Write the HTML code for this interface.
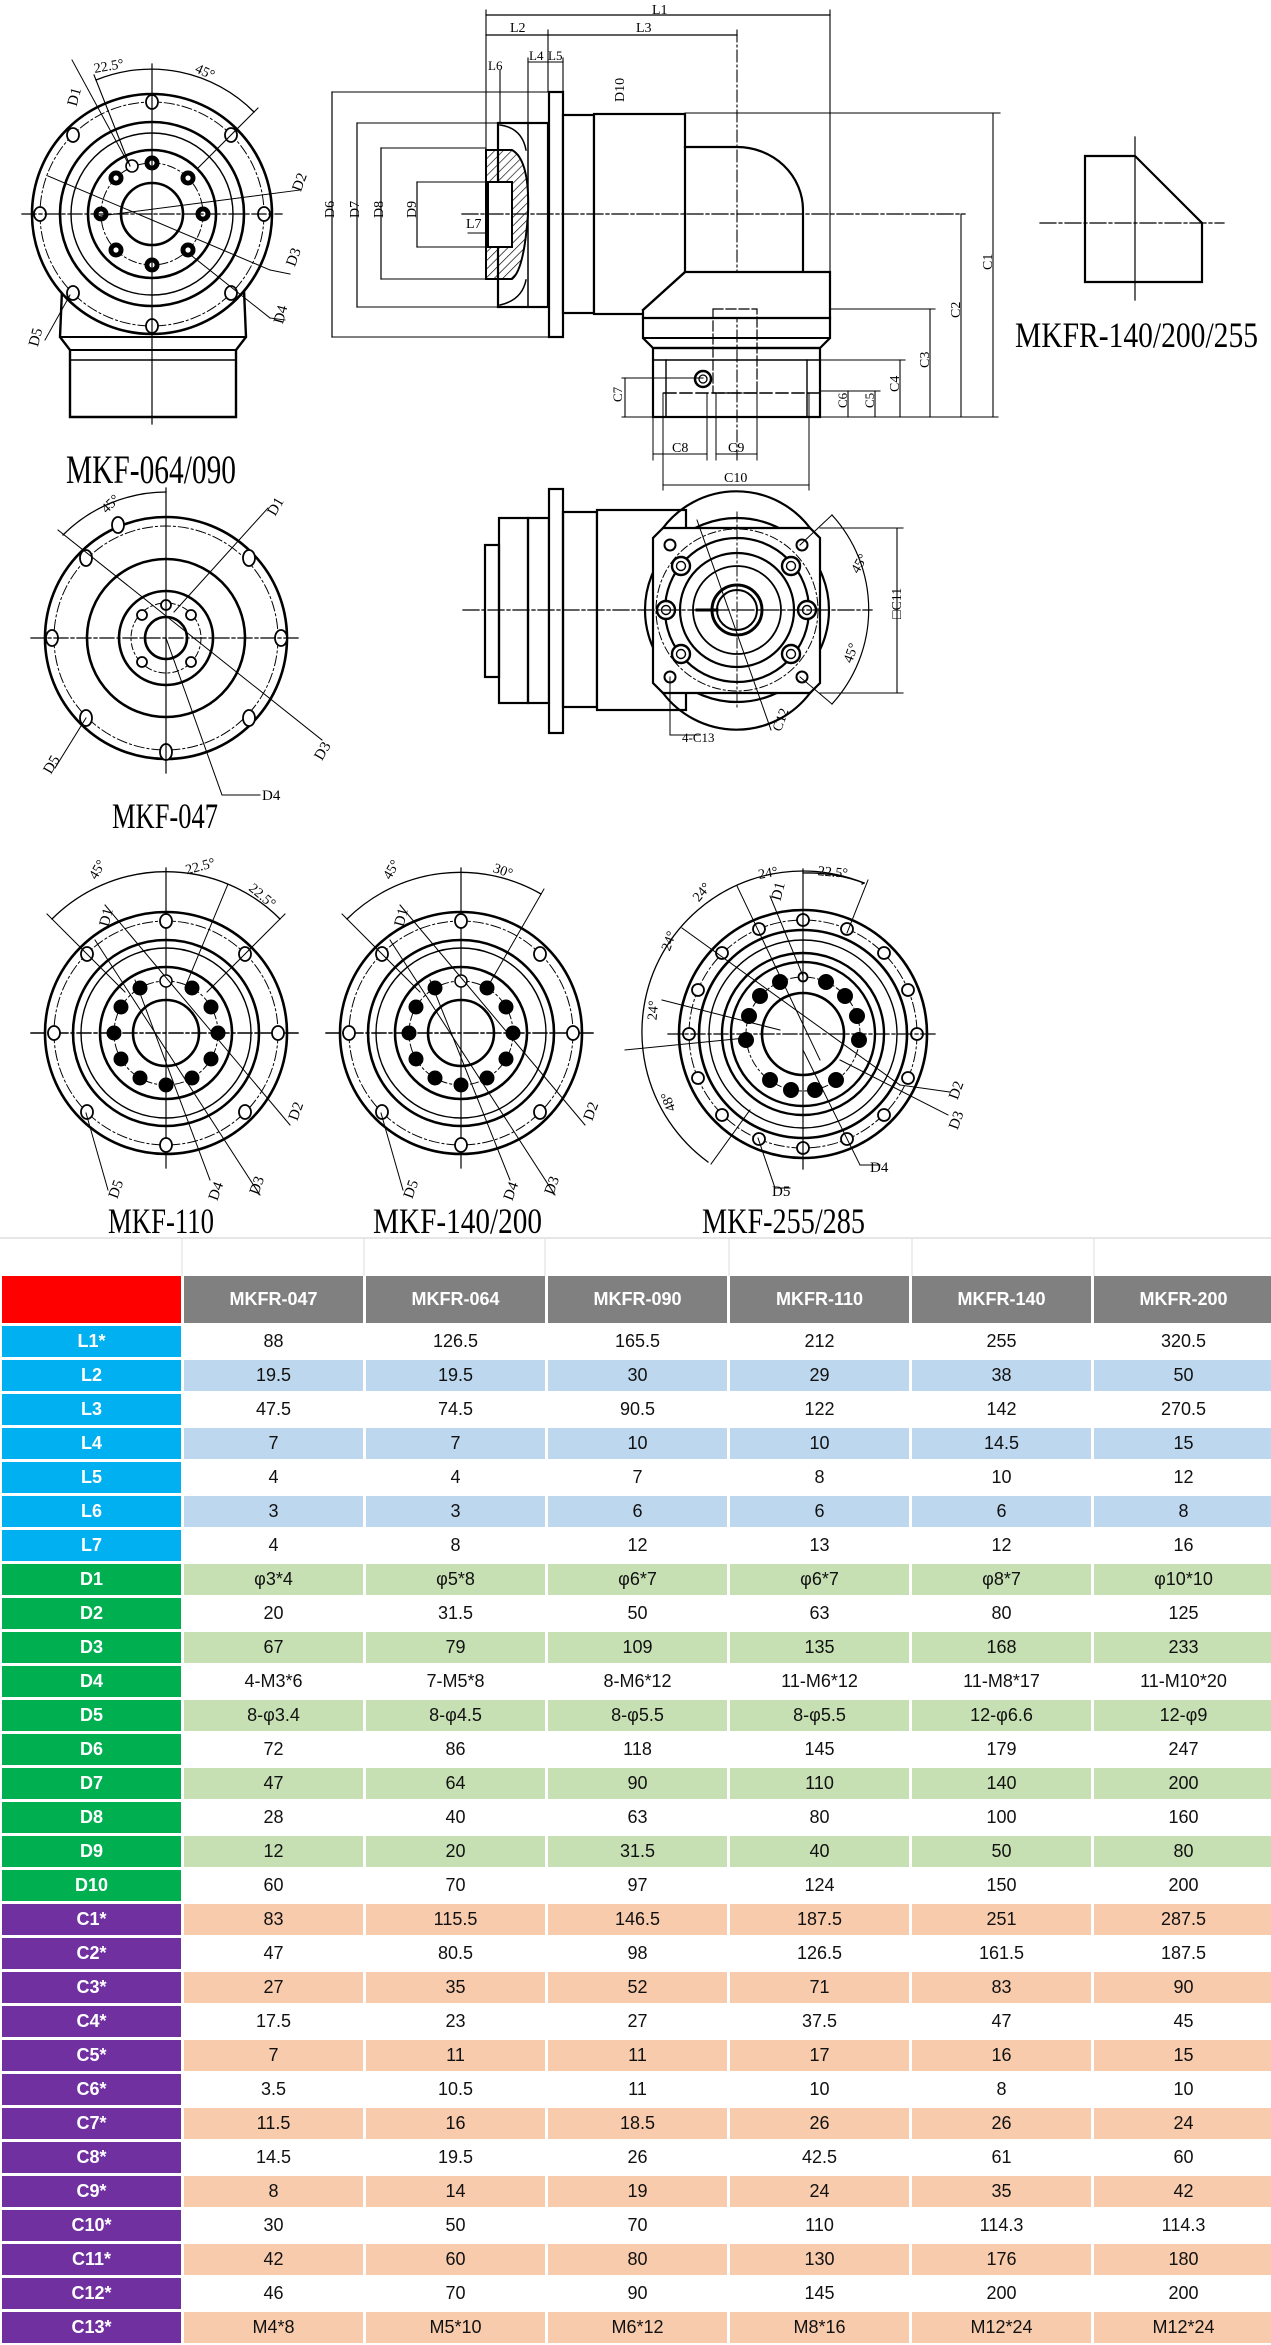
<!DOCTYPE html>
<html><head><meta charset="utf-8">
<style>
html,body{margin:0;padding:0;background:#fff;}
body{width:1271px;height:2345px;position:relative;overflow:hidden;font-family:"Liberation Sans",sans-serif;}
svg{position:absolute;left:0;top:0;}
.tbl{position:absolute;left:2px;top:1276px;display:grid;grid-template-columns:179px repeat(6,179px);grid-template-rows:47px repeat(30,31px);column-gap:3px;row-gap:3px;}
.tbl div{display:flex;align-items:center;justify-content:center;font-size:18px;color:#111;}
.h{background:#808080;color:#fff !important;font-weight:bold;}
.r{background:#ff0000;}
.L{background:#00b0f0;color:#fff !important;font-weight:bold;}
.D{background:#00b050;color:#fff !important;font-weight:bold;}
.C{background:#7030a0;color:#fff !important;font-weight:bold;}
.b{background:#bdd7ee;} .g{background:#c6e0b4;} .p{background:#f8cbad;} .w{background:#fff;}
</style></head><body>
<svg width="1271" height="1276" viewBox="0 0 1271 1276" xmlns="http://www.w3.org/2000/svg" font-family="Liberation Serif, serif">
<defs>
<pattern id="hat" width="6" height="6" patternUnits="userSpaceOnUse" patternTransform="rotate(45)"><line x1="0" y1="0" x2="0" y2="6" stroke="#000" stroke-width="1.3"/></pattern>
<g id="o8" fill="#fff" stroke="#000" stroke-width="1.8">
<ellipse cx="0" cy="-112" rx="6" ry="7"/><ellipse cx="79" cy="-79" rx="6" ry="7"/><ellipse cx="112" cy="0" rx="6" ry="7"/><ellipse cx="79" cy="79" rx="6" ry="7"/><ellipse cx="0" cy="112" rx="6" ry="7"/><ellipse cx="-79" cy="79" rx="6" ry="7"/><ellipse cx="-112" cy="0" rx="6" ry="7"/><ellipse cx="-79" cy="-79" rx="6" ry="7"/>
</g>
<g id="i12" fill="#000" stroke="#000">
<circle cx="0" cy="-52" r="6" fill="#fff" stroke-width="1.5"/><circle cx="26" cy="-45" r="7"/><circle cx="45" cy="-26" r="7"/><circle cx="52" cy="0" r="7"/><circle cx="45" cy="26" r="7"/><circle cx="26" cy="45" r="7"/><circle cx="0" cy="52" r="7"/><circle cx="-26" cy="45" r="7"/><circle cx="-45" cy="26" r="7"/><circle cx="-52" cy="0" r="7"/><circle cx="-45" cy="-26" r="7"/><circle cx="-26" cy="-45" r="7"/>
</g>
<g id="ring" fill="none" stroke="#000">
<circle r="121" stroke-width="2.6"/><circle r="112" stroke-width="1" stroke-dasharray="10,3,2,3"/><circle r="93" stroke-width="2.6"/><circle r="85" stroke-width="1.4"/><circle r="66" stroke-width="2.6"/><circle r="52" stroke-width="1" stroke-dasharray="8,3,2,3"/><circle r="33" stroke-width="2.6"/>
<line x1="-135" y1="0" x2="135" y2="0" stroke-width="1.4" stroke-dasharray="14,3,3,3"/><line x1="0" y1="-165" x2="0" y2="135" stroke-width="1.2"/>
</g>
</defs>
<g stroke="#000" fill="none" stroke-linecap="square">
<!-- faint grid -->
<line x1="0" y1="1238" x2="1271" y2="1238" stroke="#ccc" stroke-width="1"/>
<g stroke="#ddd" stroke-width="1"><line x1="182" y1="1238" x2="182" y2="1276"/><line x1="364" y1="1238" x2="364" y2="1276"/><line x1="545" y1="1238" x2="545" y2="1276"/><line x1="729" y1="1238" x2="729" y2="1276"/><line x1="912" y1="1238" x2="912" y2="1276"/><line x1="1094" y1="1238" x2="1094" y2="1276"/></g>

<!-- MKF-064/090 -->
<path d="M62,290 L60,337 L70,350 L70,417 L236,417 L236,350 L246,337 L244,290" stroke-width="2.4"/>
<line x1="60" y1="337" x2="246" y2="337" stroke-width="2"/><line x1="70" y1="350" x2="236" y2="350" stroke-width="2"/><line x1="70" y1="360" x2="236" y2="360" stroke-width="1.5"/>
<circle cx="152" cy="214" r="120" fill="#fff" stroke-width="2.6"/>
<g transform="translate(152,214)">
<circle r="112" stroke-width="1" stroke-dasharray="10,3,2,3"/><circle r="92" stroke-width="2.6"/><circle r="81" stroke-width="1.4"/><circle r="64" stroke-width="2.6"/><circle r="51" stroke-width="1" stroke-dasharray="8,3,2,3"/><circle r="31" stroke-width="2.6"/>
<use href="#o8"/>
<g fill="#000"><circle cx="0" cy="-51" r="7"/><circle cx="36" cy="-36" r="7"/><circle cx="51" cy="0" r="7"/><circle cx="36" cy="36" r="7"/><circle cx="0" cy="51" r="7"/><circle cx="-36" cy="36" r="7"/><circle cx="-51" cy="0" r="7"/><circle cx="-36" cy="-36" r="7"/></g>
<g fill="#fff" stroke-width="0.8"><circle cx="0" cy="-51" r="3"/><circle cx="36" cy="-36" r="3"/><circle cx="51" cy="0" r="3"/><circle cx="36" cy="36" r="3"/><circle cx="0" cy="51" r="3"/><circle cx="-36" cy="36" r="3"/><circle cx="-51" cy="0" r="3"/><circle cx="-36" cy="-36" r="3"/></g>
<circle cx="-20" cy="-48" r="6" stroke-width="1.6" fill="#fff"/>
<line x1="-130" y1="0" x2="130" y2="0" stroke-width="1.3" stroke-dasharray="14,3,3,3"/>
<line x1="0" y1="-150" x2="0" y2="210" stroke-width="1.2"/>
</g>
<path d="M96,80 A145,145 0 0 1 254,112" stroke-width="1.3"/>
<line x1="94" y1="75" x2="130" y2="166" stroke-width="1.1"/><line x1="258" y1="108" x2="198" y2="168" stroke-width="1.1"/>
<line x1="72" y1="60" x2="128" y2="163" stroke-width="1"/>
<line x1="48" y1="176" x2="270" y2="270" stroke-width="1"/><line x1="270" y1="270" x2="290" y2="274" stroke-width="1"/>
<line x1="100" y1="216" x2="300" y2="190" stroke-width="1"/>
<line x1="192" y1="256" x2="270" y2="318" stroke-width="1"/><line x1="270" y1="318" x2="285" y2="320" stroke-width="1"/>
<line x1="70" y1="295" x2="45" y2="340" stroke-width="1"/>

<!-- side view top -->
<line x1="486" y1="10" x2="486" y2="214" stroke-width="1.1"/><line x1="830" y1="10" x2="830" y2="272" stroke-width="1.1"/>
<line x1="486" y1="15" x2="830" y2="15" stroke-width="1.2"/>
<line x1="486" y1="35" x2="737" y2="35" stroke-width="1.2"/><line x1="548" y1="30" x2="548" y2="92" stroke-width="1.1"/><line x1="737" y1="30" x2="737" y2="460" stroke-width="1.1" stroke-dasharray="12,3,2,3"/>
<line x1="528" y1="58" x2="528" y2="123" stroke-width="1.1"/><line x1="563" y1="58" x2="563" y2="92" stroke-width="1.1"/><line x1="528" y1="62" x2="563" y2="62" stroke-width="1.1"/>
<line x1="500" y1="70" x2="500" y2="123" stroke-width="1.1"/>
<line x1="332" y1="92" x2="332" y2="337" stroke-width="1.2"/><line x1="332" y1="92" x2="550" y2="92" stroke-width="1.1"/><line x1="332" y1="337" x2="550" y2="337" stroke-width="1.1"/>
<line x1="357" y1="123" x2="357" y2="307" stroke-width="1.2"/><line x1="357" y1="123" x2="498" y2="123" stroke-width="1.1"/><line x1="357" y1="307" x2="498" y2="307" stroke-width="1.1"/>
<line x1="381" y1="148" x2="381" y2="279" stroke-width="1.2"/><line x1="381" y1="148" x2="486" y2="148" stroke-width="1.1"/><line x1="381" y1="279" x2="486" y2="279" stroke-width="1.1"/>
<line x1="417" y1="182" x2="417" y2="247" stroke-width="1.2"/><line x1="417" y1="182" x2="488" y2="182" stroke-width="1.1"/><line x1="417" y1="247" x2="488" y2="247" stroke-width="1.1"/>
<line x1="468" y1="233" x2="488" y2="233" stroke-width="1"/>
<rect x="498" y="123" width="50" height="184" stroke-width="2.2" fill="#fff"/>
<line x1="528" y1="123" x2="528" y2="307" stroke-width="1.5"/>
<path d="M486,150 L512,150 Q530,160 528,214 Q524,270 512,279 L486,279 Z" fill="url(#hat)" stroke-width="2"/>
<rect x="488" y="182" width="24" height="65" fill="#fff" stroke-width="2"/>
<path d="M500,125 Q522,128 526,150" stroke-width="1.5"/><path d="M500,305 Q522,300 526,280" stroke-width="1.5"/>
<rect x="549" y="92" width="14" height="245" fill="#fff" stroke-width="2.2"/>
<rect x="563" y="115" width="31" height="198" fill="#fff" stroke-width="2.2"/>
<rect x="594" y="114" width="91" height="200" fill="#fff" stroke-width="2.2"/>
<path d="M685,147 L737,147 A66,63 0 0 1 803,210 L803,272" stroke-width="2.2"/>
<path d="M685,272 L830,272 L830,318 L643,318 L643,310 Z" stroke-width="2.2" fill="#fff"/>
<line x1="685" y1="272" x2="643" y2="310" stroke-width="2.2"/>
<path d="M643,318 L643,338 L653,348 L820,348 L830,338 L830,318" stroke-width="2.2"/>
<line x1="643" y1="338" x2="830" y2="338" stroke-width="2"/>
<rect x="653" y="348" width="167" height="69" stroke-width="2.2"/>
<line x1="653" y1="360" x2="820" y2="360" stroke-width="1.6"/>
<line x1="666" y1="360" x2="666" y2="417" stroke-width="1.4"/><line x1="807" y1="360" x2="807" y2="417" stroke-width="1.4"/>
<line x1="664" y1="393" x2="820" y2="393" stroke-width="1.4" stroke-dasharray="12,4"/>
<rect x="713" y="309" width="44" height="84" stroke-width="1.2" stroke-dasharray="10,3"/>
<circle cx="703" cy="379" r="8" stroke-width="2.5"/><circle cx="703" cy="379" r="4" stroke-width="1.3"/>
<line x1="462" y1="214" x2="965" y2="214" stroke-width="1.3" stroke-dasharray="16,3,3,3"/>
<line x1="685" y1="113" x2="1000" y2="113" stroke-width="1.1"/><line x1="830" y1="309" x2="935" y2="309" stroke-width="1.1"/>
<line x1="820" y1="360" x2="905" y2="360" stroke-width="1.1"/><line x1="820" y1="391" x2="880" y2="391" stroke-width="1.1"/>
<line x1="622" y1="417" x2="998" y2="417" stroke-width="1.1"/><line x1="622" y1="378" x2="703" y2="378" stroke-width="1.1"/>
<line x1="993" y1="113" x2="993" y2="417" stroke-width="1.1"/><line x1="961" y1="214" x2="961" y2="417" stroke-width="1.1"/><line x1="930" y1="309" x2="930" y2="417" stroke-width="1.1"/><line x1="900" y1="360" x2="900" y2="417" stroke-width="1.1"/><line x1="875" y1="391" x2="875" y2="417" stroke-width="1.1"/><line x1="848" y1="391" x2="848" y2="417" stroke-width="1.1"/>
<line x1="625" y1="378" x2="625" y2="417" stroke-width="1.1"/>
<line x1="653" y1="417" x2="653" y2="460" stroke-width="1"/><line x1="707" y1="393" x2="707" y2="460" stroke-width="1"/><line x1="716" y1="393" x2="716" y2="460" stroke-width="1"/><line x1="757" y1="393" x2="757" y2="460" stroke-width="1"/>
<line x1="653" y1="454" x2="707" y2="454" stroke-width="1.1"/><line x1="716" y1="454" x2="757" y2="454" stroke-width="1.1"/>
<line x1="663" y1="393" x2="663" y2="490" stroke-width="1"/><line x1="809" y1="393" x2="809" y2="490" stroke-width="1"/><line x1="663" y1="485" x2="809" y2="485" stroke-width="1.1"/>

<!-- MKFR symbol -->
<path d="M1085,156 L1135,156 L1202,223 L1202,282 L1085,282 Z" stroke-width="2.2"/>
<line x1="1040" y1="223" x2="1224" y2="223" stroke-width="1.2" stroke-dasharray="16,3,3,3"/><line x1="1135" y1="137" x2="1135" y2="300" stroke-width="1.2"/>

<!-- MKF-047 front -->
<g transform="translate(166,638)">
<circle r="121" stroke-width="2.6"/><circle r="112" stroke-width="1" stroke-dasharray="10,3,2,3"/><circle r="79" stroke-width="2.6"/><circle r="47" stroke-width="2.6"/><circle r="35" stroke-width="1" stroke-dasharray="6,3,2,3"/><circle r="21" stroke-width="2.6"/>
<g fill="#fff" stroke-width="1.8"><ellipse cx="-48" cy="-113" rx="6" ry="8"/><ellipse cx="83" cy="-80" rx="6" ry="8"/><ellipse cx="115" cy="0" rx="6" ry="8"/><ellipse cx="83" cy="80" rx="6" ry="8"/><ellipse cx="0" cy="114" rx="6" ry="8"/><ellipse cx="-80" cy="80" rx="6" ry="8"/><ellipse cx="-114" cy="0" rx="6" ry="8"/><ellipse cx="-80" cy="-80" rx="6" ry="8"/>
<circle cx="0" cy="-33" r="5"/><circle cx="25" cy="-23" r="5"/><circle cx="-24" cy="-23" r="5"/><circle cx="-24" cy="24" r="5"/><circle cx="25" cy="24" r="5"/></g>
<line x1="-135" y1="0" x2="135" y2="0" stroke-width="1.3" stroke-dasharray="14,3,3,3"/><line x1="0" y1="-150" x2="0" y2="135" stroke-width="1.2"/>
</g>
<path d="M63,535 A146,146 0 0 1 166,492" stroke-width="1.3"/>
<line x1="58" y1="530" x2="322" y2="740" stroke-width="1"/>
<line x1="174" y1="612" x2="268" y2="508" stroke-width="1"/>
<line x1="166" y1="638" x2="222" y2="795" stroke-width="1"/><line x1="222" y1="795" x2="260" y2="795" stroke-width="1"/>
<line x1="86" y1="718" x2="55" y2="768" stroke-width="1"/>

<!-- MKF-047 side -->
<rect x="485" y="545" width="14" height="132" stroke-width="2.2"/>
<rect x="499" y="518" width="29" height="185" stroke-width="2.2"/>
<rect x="528" y="518" width="21" height="185" stroke-width="2.2"/>
<rect x="549" y="489" width="14" height="244" stroke-width="2.2" fill="#fff"/>
<rect x="563" y="512" width="34" height="195" stroke-width="2.2"/>
<rect x="597" y="510" width="89" height="200" stroke-width="2.2" fill="#fff"/>
<circle cx="737" cy="610" r="92" stroke-width="2.2" fill="#fff"/>
<path d="M663,528 L810,528 L820,538 L820,683 L810,693 L663,693 L653,683 L653,538 Z" stroke-width="2.2" fill="#fff"/>
<path d="M663,528 A92,92 0 0 1 810,528" stroke-width="2.2"/><path d="M663,693 A92,92 0 0 0 810,693" stroke-width="2.2"/>
<g transform="translate(737,610)">
<circle r="72" stroke-width="2.2"/><circle r="57" stroke-width="2.2"/><circle r="44" stroke-width="1.8"/><circle r="25" stroke-width="3"/><circle r="20" stroke-width="2"/>
<circle r="81" stroke-width="1" stroke-dasharray="8,3,2,3"/>
<g fill="#fff" stroke-width="2.4"><circle cx="-56" cy="-44" r="9"/><circle cx="54" cy="-44" r="9"/><circle cx="-71" cy="0" r="9"/><circle cx="70" cy="0" r="9"/><circle cx="-56" cy="44" r="9"/><circle cx="54" cy="44" r="9"/></g>
<g stroke-width="1.4"><circle cx="-56" cy="-44" r="4.5"/><circle cx="54" cy="-44" r="4.5"/><circle cx="-71" cy="0" r="4.5"/><circle cx="70" cy="0" r="4.5"/><circle cx="-56" cy="44" r="4.5"/><circle cx="54" cy="44" r="4.5"/></g>
<g fill="#fff" stroke-width="2"><circle cx="-67" cy="-65" r="5.5"/><circle cx="65" cy="-65" r="5.5"/><circle cx="-67" cy="67" r="5.5"/><circle cx="65" cy="67" r="5.5"/></g>
<line x1="-40" y1="0" x2="-20" y2="0" stroke-width="3"/>
<line x1="-40" y1="-90" x2="34" y2="120" stroke-width="1"/>
</g>
<line x1="463" y1="610" x2="872" y2="610" stroke-width="1.3" stroke-dasharray="16,3,3,3"/><line x1="737" y1="512" x2="737" y2="708" stroke-width="1" stroke-dasharray="10,3,2,3"/>
<line x1="820" y1="528" x2="903" y2="528" stroke-width="1.1"/><line x1="820" y1="693" x2="903" y2="693" stroke-width="1.1"/><line x1="897" y1="528" x2="897" y2="693" stroke-width="1.1"/>
<line x1="800" y1="545" x2="832" y2="515" stroke-width="1"/><line x1="800" y1="677" x2="832" y2="704" stroke-width="1"/>
<path d="M832,515 A140,140 0 0 1 832,704" stroke-width="1.2"/>
<line x1="670" y1="677" x2="670" y2="735" stroke-width="1"/><line x1="670" y1="735" x2="700" y2="735" stroke-width="1"/>

<!-- bottom flange views -->
<use href="#ring" x="166" y="1033"/><use href="#o8" x="166" y="1033"/><use href="#i12" x="166" y="1033"/>
<use href="#ring" x="461" y="1033"/><use href="#o8" x="461" y="1033"/><use href="#i12" x="461" y="1033"/>
<path d="M52,919 A161,161 0 0 1 280,919" stroke-width="1.3"/>
<line x1="47" y1="914" x2="125" y2="992" stroke-width="1"/><line x1="285" y1="914" x2="207" y2="992" stroke-width="1"/><line x1="228" y1="884" x2="186" y2="985" stroke-width="1"/>
<line x1="105" y1="905" x2="290" y2="1125" stroke-width="1"/><line x1="95" y1="940" x2="260" y2="1195" stroke-width="1"/><line x1="135" y1="980" x2="210" y2="1180" stroke-width="1"/><line x1="86" y1="1113" x2="108" y2="1190" stroke-width="1"/>
<path d="M347,919 A161,161 0 0 1 541,894" stroke-width="1.3"/>
<line x1="342" y1="914" x2="420" y2="992" stroke-width="1"/><line x1="544" y1="889" x2="487" y2="988" stroke-width="1"/>
<line x1="400" y1="905" x2="585" y2="1125" stroke-width="1"/><line x1="390" y1="940" x2="555" y2="1195" stroke-width="1"/><line x1="430" y1="980" x2="510" y2="1180" stroke-width="1"/><line x1="381" y1="1113" x2="403" y2="1190" stroke-width="1"/>

<g transform="translate(803,1034)">
<circle r="124" stroke-width="2.6"/><circle r="114" stroke-width="1" stroke-dasharray="10,3,2,3"/><circle r="104" stroke-width="2.6"/><circle r="94" stroke-width="1.4"/><circle r="81" stroke-width="2.4"/><circle r="72" stroke-width="2.4"/><circle r="57" stroke-width="1" stroke-dasharray="8,3,2,3"/><circle r="41" stroke-width="2.6"/>
<g fill="#fff" stroke-width="1.8"><circle cx="0" cy="-114" r="6"/><circle cx="44" cy="-105" r="6"/><circle cx="81" cy="-81" r="6"/><circle cx="105" cy="-44" r="6"/><circle cx="114" cy="0" r="6"/><circle cx="105" cy="44" r="6"/><circle cx="81" cy="81" r="6"/><circle cx="44" cy="105" r="6"/><circle cx="0" cy="114" r="6"/><circle cx="-44" cy="105" r="6"/><circle cx="-81" cy="81" r="6"/><circle cx="-105" cy="44" r="6"/><circle cx="-114" cy="0" r="6"/><circle cx="-105" cy="-44" r="6"/><circle cx="-81" cy="-81" r="6"/><circle cx="-44" cy="-105" r="6"/><circle cx="0" cy="-57" r="4.5"/></g>
<g fill="#000"><circle cx="-23" cy="-52" r="7.5"/><circle cx="23" cy="-52" r="7.5"/><circle cx="-43" cy="-38" r="7.5"/><circle cx="42" cy="-38" r="7.5"/><circle cx="-54" cy="-18" r="7.5"/><circle cx="54" cy="-18" r="7.5"/><circle cx="-57" cy="6" r="7.5"/><circle cx="56" cy="6" r="7.5"/><circle cx="-33" cy="46" r="7.5"/><circle cx="33" cy="46" r="7.5"/><circle cx="-12" cy="56" r="7.5"/><circle cx="12" cy="56" r="7.5"/></g>
<line x1="-135" y1="0" x2="135" y2="0" stroke-width="1.3" stroke-dasharray="14,3,3,3"/><line x1="0" y1="-165" x2="0" y2="135" stroke-width="1.2"/>
</g>
<path d="M708,1162 A161,161 0 0 1 864,883" stroke-width="1.3"/>
<path d="M864,883 A161,161 0 0 1 862,884" stroke-width="1.3"/>
<path d="M803,873 A161,161 0 0 1 864,883" stroke-width="1.3"/>
<line x1="868" y1="880" x2="847" y2="933" stroke-width="1"/><line x1="737" y1="886" x2="820" y2="1060" stroke-width="1"/>
<line x1="682" y1="928" x2="900" y2="1085" stroke-width="1"/><line x1="900" y1="1085" x2="950" y2="1092" stroke-width="1"/>
<line x1="662" y1="1000" x2="780" y2="1030" stroke-width="1"/><line x1="625" y1="1050" x2="745" y2="1038" stroke-width="1"/>
<line x1="840" y1="1060" x2="948" y2="1115" stroke-width="1"/>
<line x1="711" y1="1164" x2="750" y2="1110" stroke-width="1"/>
<line x1="803" y1="1050" x2="860" y2="1165" stroke-width="1"/><line x1="860" y1="1165" x2="880" y2="1165" stroke-width="1"/>
<line x1="758" y1="1138" x2="775" y2="1188" stroke-width="1"/><line x1="775" y1="1188" x2="790" y2="1188" stroke-width="1"/>
<line x1="770" y1="896" x2="803" y2="976" stroke-width="1"/>
</g>

<g fill="#000" font-size="15">
<text x="65" y="108" transform="rotate(-75 70 100)">D1</text>
<text x="94" y="72" transform="rotate(-10 100 68)" font-size="14">22.5°</text>
<text x="196" y="76" transform="rotate(25 205 70)" font-size="14">45°</text>
<text x="288" y="190" transform="rotate(-70 296 182)">D2</text>
<text x="282" y="265" transform="rotate(-70 290 257)">D3</text>
<text x="270" y="322" transform="rotate(-75 278 315)">D4</text>
<text x="26" y="344" transform="rotate(-75 34 338)">D5</text>
<text x="66" y="483" font-size="40" textLength="170" lengthAdjust="spacingAndGlyphs">MKF-064/090</text>
<text x="652" y="14" font-size="14">L1</text><text x="510" y="32" font-size="14">L2</text><text x="636" y="32" font-size="14">L3</text>
<text x="529" y="60" font-size="13">L4</text><text x="548" y="60" font-size="13">L5</text><text x="488" y="70" font-size="13">L6</text>
<text x="466" y="228" font-size="14">L7</text>
<text x="610" y="112" font-size="14" transform="rotate(-90 612 100)">D10</text>
<text x="326" y="218" font-size="14" transform="rotate(-90 330 214)">D6</text>
<text x="351" y="218" font-size="14" transform="rotate(-90 355 214)">D7</text>
<text x="375" y="218" font-size="14" transform="rotate(-90 379 214)">D8</text>
<text x="408" y="218" font-size="14" transform="rotate(-90 412 214)">D9</text>
<text x="984" y="270" font-size="14" transform="rotate(-90 988 266)">C1</text>
<text x="952" y="318" font-size="14" transform="rotate(-90 956 314)">C2</text>
<text x="921" y="368" font-size="14" transform="rotate(-90 925 364)">C3</text>
<text x="891" y="392" font-size="14" transform="rotate(-90 895 388)">C4</text>
<text x="866" y="408" font-size="13" transform="rotate(-90 870 404)">C5</text>
<text x="839" y="408" font-size="13" transform="rotate(-90 843 404)">C6</text>
<text x="614" y="402" font-size="13" transform="rotate(-90 618 398)">C7</text>
<text x="672" y="452" font-size="14">C8</text><text x="728" y="452" font-size="14">C9</text><text x="724" y="482" font-size="14">C10</text>
<text x="1015" y="347" font-size="36" textLength="243" lengthAdjust="spacingAndGlyphs">MKFR-140/200/255</text>
<text x="100" y="510" font-size="14" transform="rotate(-45 108 504)">45°</text>
<text x="266" y="515" font-size="15" transform="rotate(-60 272 508)">D1</text>
<text x="312" y="760" font-size="15" transform="rotate(-60 318 752)">D3</text>
<text x="262" y="800" font-size="15">D4</text>
<text x="40" y="772" font-size="15" transform="rotate(-60 48 764)">D5</text>
<text x="112" y="828" font-size="36" textLength="106" lengthAdjust="spacingAndGlyphs">MKF-047</text>
<text x="850" y="572" font-size="14" transform="rotate(-60 856 566)">45°</text>
<text x="842" y="662" font-size="14" transform="rotate(-70 848 656)">45°</text>
<text x="880" y="626" font-size="14" transform="rotate(-90 887 612)">□C11</text>
<text x="682" y="742" font-size="13">4-C13</text>
<text x="768" y="730" font-size="14" transform="rotate(-70 776 722)">C12</text>
<text x="88" y="878" font-size="14" transform="rotate(-60 94 872)">45°</text>
<text x="185" y="872" font-size="14" transform="rotate(-15 195 866)">22.5°</text>
<text x="250" y="896" font-size="14" transform="rotate(40 258 890)">22.5°</text>
<text x="98" y="926" font-size="15" transform="rotate(-75 104 920)">D1</text>
<text x="285" y="1120" font-size="15" transform="rotate(-70 292 1112)">D2</text>
<text x="245" y="1195" font-size="15" transform="rotate(-70 252 1186)">D3</text>
<text x="205" y="1200" font-size="15" transform="rotate(-70 212 1192)">D4</text>
<text x="105" y="1198" font-size="15" transform="rotate(-70 112 1190)">D5</text>
<text x="108" y="1233" font-size="36" textLength="106" lengthAdjust="spacingAndGlyphs">MKF-110</text>
<text x="382" y="878" font-size="14" transform="rotate(-60 388 872)">45°</text>
<text x="494" y="874" font-size="14" transform="rotate(20 500 868)">30°</text>
<text x="393" y="926" font-size="15" transform="rotate(-75 399 920)">D1</text>
<text x="580" y="1120" font-size="15" transform="rotate(-70 587 1112)">D2</text>
<text x="540" y="1195" font-size="15" transform="rotate(-70 547 1186)">D3</text>
<text x="500" y="1200" font-size="15" transform="rotate(-70 507 1192)">D4</text>
<text x="400" y="1198" font-size="15" transform="rotate(-70 407 1190)">D5</text>
<text x="373" y="1233" font-size="36" textLength="169" lengthAdjust="spacingAndGlyphs">MKF-140/200</text>
<text x="758" y="878" font-size="14" transform="rotate(-10 764 872)">24°</text>
<text x="818" y="876" font-size="14" transform="rotate(5 826 870)">22.5°</text>
<text x="692" y="900" font-size="14" transform="rotate(-50 698 894)">24°</text>
<text x="660" y="950" font-size="14" transform="rotate(-70 666 944)">24°</text>
<text x="645" y="1020" font-size="14" transform="rotate(-85 651 1014)">24°</text>
<text x="662" y="1112" font-size="14" transform="rotate(-110 668 1106)">48°</text>
<text x="770" y="900" font-size="15" transform="rotate(-75 776 894)">D1</text>
<text x="946" y="1100" font-size="15" transform="rotate(-70 952 1092)">D2</text>
<text x="946" y="1130" font-size="15" transform="rotate(-70 952 1122)">D3</text>
<text x="870" y="1172" font-size="15">D4</text>
<text x="772" y="1196" font-size="15">D5</text>
<text x="702" y="1233" font-size="36" textLength="163" lengthAdjust="spacingAndGlyphs">MKF-255/285</text>
</g>
</svg>

<div class="tbl">
<div class="r"></div><div class="h">MKFR-047</div><div class="h">MKFR-064</div><div class="h">MKFR-090</div><div class="h">MKFR-110</div><div class="h">MKFR-140</div><div class="h">MKFR-200</div>
<div class="L">L1*</div><div class="w">88</div><div class="w">126.5</div><div class="w">165.5</div><div class="w">212</div><div class="w">255</div><div class="w">320.5</div>
<div class="L">L2</div><div class="b">19.5</div><div class="b">19.5</div><div class="b">30</div><div class="b">29</div><div class="b">38</div><div class="b">50</div>
<div class="L">L3</div><div class="w">47.5</div><div class="w">74.5</div><div class="w">90.5</div><div class="w">122</div><div class="w">142</div><div class="w">270.5</div>
<div class="L">L4</div><div class="b">7</div><div class="b">7</div><div class="b">10</div><div class="b">10</div><div class="b">14.5</div><div class="b">15</div>
<div class="L">L5</div><div class="w">4</div><div class="w">4</div><div class="w">7</div><div class="w">8</div><div class="w">10</div><div class="w">12</div>
<div class="L">L6</div><div class="b">3</div><div class="b">3</div><div class="b">6</div><div class="b">6</div><div class="b">6</div><div class="b">8</div>
<div class="L">L7</div><div class="w">4</div><div class="w">8</div><div class="w">12</div><div class="w">13</div><div class="w">12</div><div class="w">16</div>
<div class="D">D1</div><div class="g">φ3*4</div><div class="g">φ5*8</div><div class="g">φ6*7</div><div class="g">φ6*7</div><div class="g">φ8*7</div><div class="g">φ10*10</div>
<div class="D">D2</div><div class="w">20</div><div class="w">31.5</div><div class="w">50</div><div class="w">63</div><div class="w">80</div><div class="w">125</div>
<div class="D">D3</div><div class="g">67</div><div class="g">79</div><div class="g">109</div><div class="g">135</div><div class="g">168</div><div class="g">233</div>
<div class="D">D4</div><div class="w">4-M3*6</div><div class="w">7-M5*8</div><div class="w">8-M6*12</div><div class="w">11-M6*12</div><div class="w">11-M8*17</div><div class="w">11-M10*20</div>
<div class="D">D5</div><div class="g">8-φ3.4</div><div class="g">8-φ4.5</div><div class="g">8-φ5.5</div><div class="g">8-φ5.5</div><div class="g">12-φ6.6</div><div class="g">12-φ9</div>
<div class="D">D6</div><div class="w">72</div><div class="w">86</div><div class="w">118</div><div class="w">145</div><div class="w">179</div><div class="w">247</div>
<div class="D">D7</div><div class="g">47</div><div class="g">64</div><div class="g">90</div><div class="g">110</div><div class="g">140</div><div class="g">200</div>
<div class="D">D8</div><div class="w">28</div><div class="w">40</div><div class="w">63</div><div class="w">80</div><div class="w">100</div><div class="w">160</div>
<div class="D">D9</div><div class="g">12</div><div class="g">20</div><div class="g">31.5</div><div class="g">40</div><div class="g">50</div><div class="g">80</div>
<div class="D">D10</div><div class="w">60</div><div class="w">70</div><div class="w">97</div><div class="w">124</div><div class="w">150</div><div class="w">200</div>
<div class="C">C1*</div><div class="p">83</div><div class="p">115.5</div><div class="p">146.5</div><div class="p">187.5</div><div class="p">251</div><div class="p">287.5</div>
<div class="C">C2*</div><div class="w">47</div><div class="w">80.5</div><div class="w">98</div><div class="w">126.5</div><div class="w">161.5</div><div class="w">187.5</div>
<div class="C">C3*</div><div class="p">27</div><div class="p">35</div><div class="p">52</div><div class="p">71</div><div class="p">83</div><div class="p">90</div>
<div class="C">C4*</div><div class="w">17.5</div><div class="w">23</div><div class="w">27</div><div class="w">37.5</div><div class="w">47</div><div class="w">45</div>
<div class="C">C5*</div><div class="p">7</div><div class="p">11</div><div class="p">11</div><div class="p">17</div><div class="p">16</div><div class="p">15</div>
<div class="C">C6*</div><div class="w">3.5</div><div class="w">10.5</div><div class="w">11</div><div class="w">10</div><div class="w">8</div><div class="w">10</div>
<div class="C">C7*</div><div class="p">11.5</div><div class="p">16</div><div class="p">18.5</div><div class="p">26</div><div class="p">26</div><div class="p">24</div>
<div class="C">C8*</div><div class="w">14.5</div><div class="w">19.5</div><div class="w">26</div><div class="w">42.5</div><div class="w">61</div><div class="w">60</div>
<div class="C">C9*</div><div class="p">8</div><div class="p">14</div><div class="p">19</div><div class="p">24</div><div class="p">35</div><div class="p">42</div>
<div class="C">C10*</div><div class="w">30</div><div class="w">50</div><div class="w">70</div><div class="w">110</div><div class="w">114.3</div><div class="w">114.3</div>
<div class="C">C11*</div><div class="p">42</div><div class="p">60</div><div class="p">80</div><div class="p">130</div><div class="p">176</div><div class="p">180</div>
<div class="C">C12*</div><div class="w">46</div><div class="w">70</div><div class="w">90</div><div class="w">145</div><div class="w">200</div><div class="w">200</div>
<div class="C">C13*</div><div class="p">M4*8</div><div class="p">M5*10</div><div class="p">M6*12</div><div class="p">M8*16</div><div class="p">M12*24</div><div class="p">M12*24</div>
</div>
</body></html>
